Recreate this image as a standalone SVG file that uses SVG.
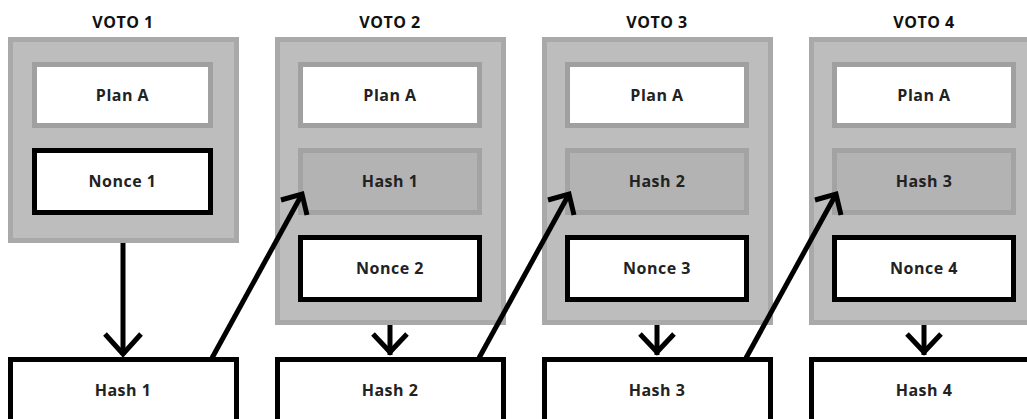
<svg xmlns="http://www.w3.org/2000/svg" width="1027" height="419" viewBox="0 0 1027 419">
<style>
.t{font-family:"Open Sans","Liberation Sans",sans-serif;font-weight:700;font-size:16px;fill:#222;text-anchor:middle;letter-spacing:0.5px}
.title{font-size:16px;fill:#111}
.outer{fill:#bdbdbd;stroke:#a9a9a9;stroke-width:5}
.plan{fill:#fff;stroke:#a0a0a0;stroke-width:5}
.hin{fill:#b3b3b3;stroke:#a3a3a3;stroke-width:5}
.blk{fill:#fff;stroke:#000;stroke-width:5}
.ln{fill:none;stroke:#000;stroke-width:5}
.ah{fill:none;stroke:#000;stroke-width:5;stroke-linejoin:miter;stroke-linecap:butt}
</style>
<rect width="1027" height="419" fill="#fff"/>
<g id="voto1">
<text class="t title" x="123" y="28">VOTO 1</text>
<rect class="outer" x="10.5" y="39.5" width="226" height="201"/>
<g id="planA1"><rect class="plan" x="34.5" y="64.5" width="176" height="61"/><text class="t" x="122.5" y="101">Plan A</text></g>
<g id="nonce1"><rect class="blk" x="34.5" y="150.5" width="176" height="62"/><text class="t" x="122.5" y="187">Nonce 1</text></g>
</g>
<g id="voto2">
<text class="t title" x="390" y="28">VOTO 2</text>
<rect class="outer" x="277.5" y="39.5" width="226" height="283"/>
<g id="planA2"><rect class="plan" x="300.5" y="64.5" width="179" height="61"/><text class="t" x="390" y="101">Plan A</text></g>
<g id="hashin1"><rect class="hin" x="300.5" y="150.5" width="179" height="62"/><text class="t" x="390" y="187">Hash 1</text></g>
<g id="nonce2"><rect class="blk" x="300.5" y="237.5" width="179" height="62"/><text class="t" x="390" y="274">Nonce 2</text></g>
</g>
<g id="voto3">
<text class="t title" x="657" y="28">VOTO 3</text>
<rect class="outer" x="544.5" y="39.5" width="226" height="283"/>
<g id="planA3"><rect class="plan" x="567.5" y="64.5" width="179" height="61"/><text class="t" x="657" y="101">Plan A</text></g>
<g id="hashin2"><rect class="hin" x="567.5" y="150.5" width="179" height="62"/><text class="t" x="657" y="187">Hash 2</text></g>
<g id="nonce3"><rect class="blk" x="567.5" y="237.5" width="179" height="62"/><text class="t" x="657" y="274">Nonce 3</text></g>
</g>
<g id="voto4">
<text class="t title" x="924" y="28">VOTO 4</text>
<rect class="outer" x="811.5" y="39.5" width="226" height="283"/>
<g id="planA4"><rect class="plan" x="834.5" y="64.5" width="179" height="61"/><text class="t" x="924" y="101">Plan A</text></g>
<g id="hashin3"><rect class="hin" x="834.5" y="150.5" width="179" height="62"/><text class="t" x="924" y="187">Hash 3</text></g>
<g id="nonce4"><rect class="blk" x="834.5" y="237.5" width="179" height="62"/><text class="t" x="924" y="274">Nonce 4</text></g>
</g>
<g id="hash1"><rect class="blk" x="10.5" y="359.5" width="226" height="80"/><text class="t" x="123" y="396">Hash 1</text></g>
<g id="hash2"><rect class="blk" x="277.5" y="359.5" width="226" height="80"/><text class="t" x="390" y="396">Hash 2</text></g>
<g id="hash3"><rect class="blk" x="544.5" y="359.5" width="226" height="80"/><text class="t" x="657" y="396">Hash 3</text></g>
<g id="hash4"><rect class="blk" x="811.5" y="359.5" width="226" height="80"/><text class="t" x="924" y="396">Hash 4</text></g>
<g id="connectors">
<line class="ln" x1="123" y1="243" x2="123" y2="355"/>
<polyline class="ah" points="105,334 123,354 141,334"/>
<line class="ln" x1="390" y1="325" x2="390" y2="355"/>
<polyline class="ah" points="373,334 390,352 407,334"/>
<line class="ln" x1="657" y1="325" x2="657" y2="355"/>
<polyline class="ah" points="640,334 657,352 674,334"/>
<line class="ln" x1="924" y1="325" x2="924" y2="355"/>
<polyline class="ah" points="907,334 924,352 941,334"/>
<line class="ln" x1="212" y1="358" x2="301" y2="196"/>
<polyline class="ah" points="281,200 302,194 307,215"/>
<line class="ln" x1="479" y1="358" x2="568" y2="196"/>
<polyline class="ah" points="548,200 569,194 574,215"/>
<line class="ln" x1="746" y1="358" x2="835" y2="196"/>
<polyline class="ah" points="815,200 836,194 841,215"/>
</g>
</svg>
